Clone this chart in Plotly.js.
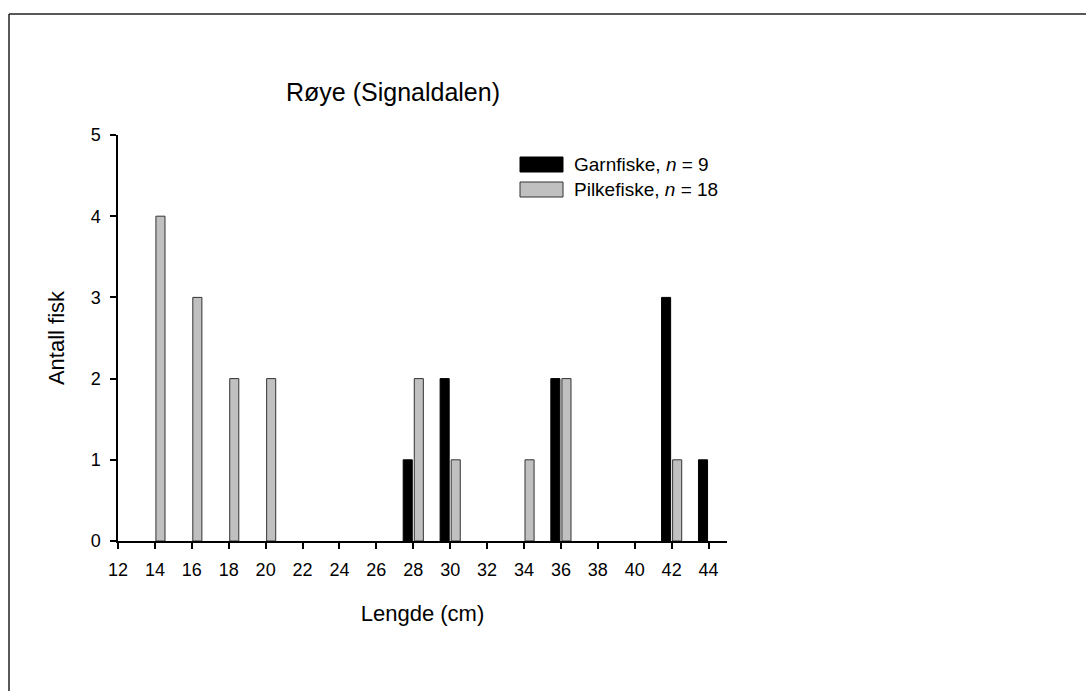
<!DOCTYPE html>
<html>
<head>
<meta charset="utf-8">
<script src="https://cdn.plot.ly/plotly-3.0.1.min.js"></script>
<style>html,body{margin:0;padding:0;background:#fff;}#chart{width:1086px;height:691px;}</style>
</head>
<body>
<div id="chart"></div>
<script>
// Data
const lengths = [14, 16, 18, 20, 22, 24, 26, 28, 30, 32, 34, 36, 38, 40, 42, 44];
const garnfiske = [0, 0, 0, 0, 0, 0, 0, 1, 2, 0, 0, 2, 0, 0, 3, 1];
const pilkefiske = [4, 3, 2, 2, 0, 0, 0, 2, 1, 0, 1, 2, 0, 0, 1, 0];
const seriesNames = ['Garnfiske, <i>n</i> = 9', 'Pilkefiske, <i>n</i> = 18'];
const seriesColors = ['#000000', '#c0c0c0'];
const seriesLines = ['#000000', '#333333'];
const xTicks = [12, 14, 16, 18, 20, 22, 24, 26, 28, 30, 32, 34, 36, 38, 40, 42, 44];
const yTicks = [0, 1, 2, 3, 4, 5];
const chartTitle = 'Røye (Signaldalen)';
const xTitle = 'Lengde (cm)';
const yTitle = 'Antall fisk';

const W = 1086, H = 691;
const mL = 118, mR = 359, mT = 135, mB = 150;
const pw = W - mL - mR, ph = H - mT - mB;
const px2x = p => (p - mL) / pw;
const py2y = p => (H - mB - p) / ph;

const FONT = 'Arial, "Liberation Sans", sans-serif';

const series = [garnfiske, pilkefiske];
const traces = series.map((vals, i) => ({
  type: 'bar',
  x: lengths,
  y: vals.map(v => (v === 0 ? null : v)),
  name: seriesNames[i],
  marker: {color: seriesColors[i], line: {color: seriesLines[i], width: 1}},
  showlegend: false,
  hoverinfo: 'x+y'
}));

// custom legend (big swatches like the reference)
const shapes = [];
const annotations = [];
seriesNames.forEach((nm, i) => {
  const top = 157 + i * 25;
  shapes.push({type: 'rect', xref: 'paper', yref: 'paper',
    x0: px2x(520), x1: px2x(563), y0: py2y(top + 15), y1: py2y(top),
    fillcolor: seriesColors[i], line: {color: seriesLines[i], width: 1}});
  annotations.push({xref: 'paper', yref: 'paper', x: px2x(572), y: py2y(top + 7.5),
    xanchor: 'left', yanchor: 'middle', showarrow: false, text: nm,
    font: {family: FONT, size: 19, color: '#000'}});
});
// outer frame (top and left edges visible)
shapes.push({type: 'line', xref: 'paper', yref: 'paper', x0: px2x(9), x1: px2x(1090), y0: py2y(14), y1: py2y(14), line: {color: '#222', width: 1.5}});
shapes.push({type: 'line', xref: 'paper', yref: 'paper', x0: px2x(9), x1: px2x(9), y0: py2y(14), y1: py2y(695), line: {color: '#222', width: 1.5}});

const layout = {
  width: W, height: H,
  margin: {l: mL, r: mR, t: mT, b: mB, pad: 0},
  paper_bgcolor: '#fff', plot_bgcolor: '#fff',
  font: {family: FONT, color: '#000', size: 18},
  barmode: 'group', bargap: 0.4, bargroupgap: 0.18,
  title: {text: chartTitle, font: {family: FONT, size: 25, color: '#000'},
    xref: 'container', yref: 'container', x: 286 / W, xanchor: 'left', y: 1 - 92 / H, yanchor: 'middle'},
  xaxis: {
    range: [12, 45], tickmode: 'array', tickvals: xTicks, ticktext: xTicks.map(String),
    showline: true, linecolor: '#000', linewidth: 1.5, showgrid: false, zeroline: false,
    ticks: 'outside', ticklen: 6, tickwidth: 1.5, tickcolor: '#000', ticklabelstandoff: 6,
    tickfont: {family: FONT, size: 18, color: '#000'},
    title: {text: xTitle, font: {family: FONT, size: 22, color: '#000'}, standoff: 26}
  },
  yaxis: {
    range: [0, 5], tickmode: 'array', tickvals: yTicks, ticktext: yTicks.map(String),
    showline: true, linecolor: '#000', linewidth: 1.5, showgrid: false, zeroline: false,
    ticks: 'outside', ticklen: 6, tickwidth: 1.5, tickcolor: '#000', ticklabelstandoff: 6,
    tickfont: {family: FONT, size: 18, color: '#000'},
    title: {text: yTitle, font: {family: FONT, size: 22, color: '#000'}, standoff: 20}
  },
  shapes: shapes,
  annotations: annotations,
  showlegend: false
};

Plotly.newPlot('chart', traces, layout, {displayModeBar: false, responsive: false});
</script>
</body>
</html>
